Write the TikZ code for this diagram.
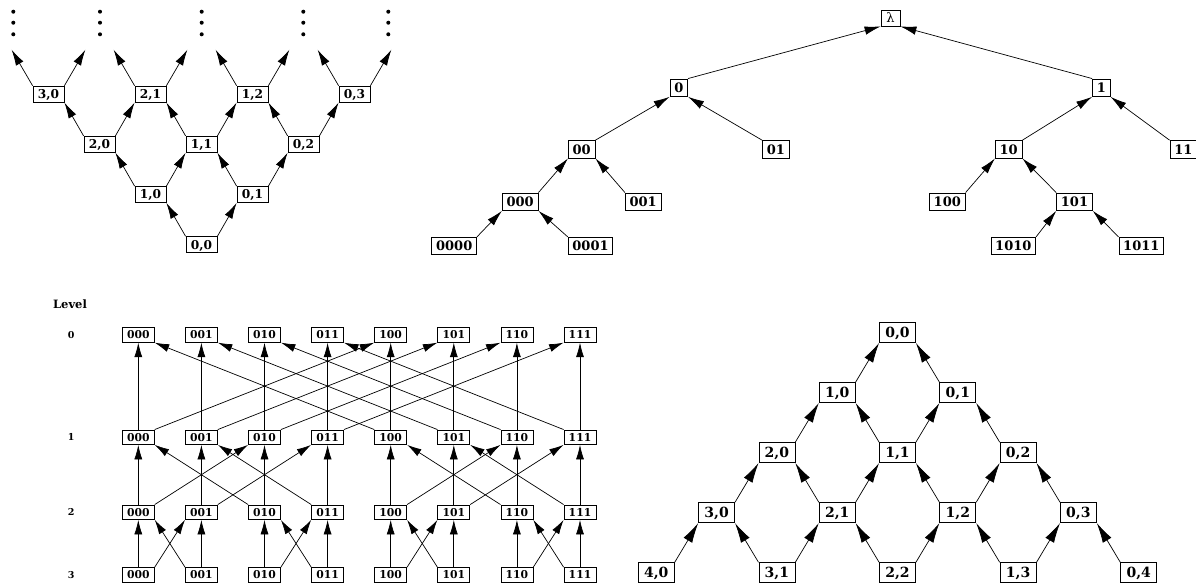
\documentclass[tikz,border=0pt]{standalone}
\usepackage{fontspec}
\newfontfamily\nodefont{DejaVu Serif}
\usetikzlibrary{arrows.meta}
\begin{document}
\begin{tikzpicture}[x=1pt,y=-1pt,
  bx/.style={draw, line width=0.8pt, inner sep=0pt, text depth=0pt},
  tlbox/.style={bx, font=\nodefont\fontsize{12.2}{14}\bfseries\selectfont, text height=8.9pt, minimum width=31pt, minimum height=16pt},
  brbox/.style={bx, font=\nodefont\fontsize{14}{16}\bfseries\selectfont, text height=10.2pt, minimum width=36pt, minimum height=20pt},
  bfbox/.style={bx, font=\nodefont\fontsize{10.8}{12}\bfseries\selectfont, text height=7.9pt, minimum width=32pt, minimum height=14.5pt},
  trbox/.style={bx, font=\nodefont\fontsize{13}{15}\bfseries\selectfont, text height=9.5pt, inner xsep=4.3pt, minimum height=17.5pt},
  lvl/.style={font=\nodefont\fontsize{9.5}{11}\bfseries\selectfont},
  arr/.style={-{Latex[length=16pt,width=8.5pt]}, line width=0.7pt},
  bfarr/.style={-{Latex[length=14.5pt,width=8pt]}, line width=0.7pt},
  bigarr/.style={-{Latex[length=20pt,width=10pt]}, line width=0.7pt},
  dotmark/.style={fill=black, radius=2pt}
]
\useasboundingbox (0,0) rectangle (1196,584);

% ---------------- top-left lattice ----------------
\foreach \s in {0,...,3}{
  \foreach \i in {0,...,\s}{
    \pgfmathtruncatemacro\j{\s-\i}
    \node[tlbox] (a-\i-\j) at ({201.5+(\j-\i)*51},{244.7-\s*50.2}) {\i,\j};
  }
}
\foreach \s in {0,...,2}{
  \foreach \i in {0,...,\s}{
    \pgfmathtruncatemacro\j{\s-\i}
    \pgfmathtruncatemacro\ii{\i+1}
    \pgfmathtruncatemacro\jj{\j+1}
    \draw[arr] (a-\i-\j.north west) -- (a-\ii-\j.south east);
    \draw[arr] (a-\i-\j.north east) -- (a-\i-\jj.south west);
  }
}
\foreach \i in {0,...,3}{
  \pgfmathtruncatemacro\j{3-\i}
  \coordinate (fl-\i) at ([shift={(-21,-36)}]a-\i-\j.north west);
  \coordinate (fr-\i) at ([shift={(21,-36)}]a-\i-\j.north east);
  \draw[arr] (a-\i-\j.north west) -- (fl-\i);
  \draw[arr] (a-\i-\j.north east) -- (fr-\i);
}
\foreach \x in {13.3,100,201.7,303.3,388.3}{
  \foreach \y in {11.7,22.7,34.3}{
    \fill[dotmark] (\x,\y) circle;
  }
}

% ---------------- top-right tree ----------------
\node[trbox, font=\nodefont\fontsize{13}{15}\selectfont, minimum height=16pt, minimum width=19pt] (t-l) at (890.5,18) {λ};
\node[trbox] (t-0) at (678.8,87.7) {0};
\node[trbox] (t-1) at (1101.3,87.7) {1};
\node[trbox] (t-00) at (581.7,149.3) {00};
\node[trbox] (t-01) at (775.8,149.3) {01};
\node[trbox] (t-10) at (1008.7,149.3) {10};
\node[trbox] (t-11) at (1183.3,149.3) {11};
\node[trbox] (t-000) at (520.2,201.7) {000};
\node[trbox] (t-001) at (643.2,201.7) {001};
\node[trbox] (t-100) at (947.3,201.7) {100};
\node[trbox] (t-101) at (1074.5,201.7) {101};
\node[trbox] (t-0000) at (454.2,246) {0000};
\node[trbox] (t-0001) at (590.5,246) {0001};
\node[trbox] (t-1010) at (1013.3,246) {1010};
\node[trbox] (t-1011) at (1141.3,246) {1011};
\draw[arr] (t-0.north east) -- (t-l.south west);
\draw[arr] (t-1.north west) -- (t-l.south east);
\draw[arr] (t-00.north east) -- (t-0.south west);
\draw[arr] (t-01.north west) -- (t-0.south east);
\draw[arr] (t-10.north east) -- (t-1.south west);
\draw[arr] (t-11.north west) -- (t-1.south east);
\draw[arr] (t-000.north east) -- (t-00.south west);
\draw[arr] (t-001.north west) -- (t-00.south east);
\draw[arr] (t-100.north east) -- (t-10.south west);
\draw[arr] (t-101.north west) -- (t-10.south east);
\draw[arr] (t-0000.north east) -- (t-000.south west);
\draw[arr] (t-0001.north west) -- (t-000.south east);
\draw[arr] (t-1010.north east) -- (t-101.south west);
\draw[arr] (t-1011.north west) -- (t-101.south east);

% ---------------- bottom-left butterfly ----------------
\node[font=\nodefont\fontsize{11.5}{13}\bfseries\selectfont] (lvl-h) at (70,304) {Level};
\foreach \L/\yy in {0/335,1/437.2,2/512.2,3/574.8}{
  \node[lvl] (lvl-\L) at (71.2,\yy) {\L};
  \foreach \k/\lab in {0/000,1/001,2/010,3/011,4/100,5/101,6/110,7/111}{
    \node[bfbox] (B\L-\k) at ({138.3+\k*63.1},\yy) {\lab};
  }
}
\foreach \lo/\hi/\m in {3/2/1,2/1/2,1/0/4}{
  \foreach \k in {0,...,7}{
    \draw[bfarr] (B\lo-\k.north) -- (B\hi-\k.south);
    \pgfmathtruncatemacro\bit{mod(floor(\k/\m),2)}
    \ifnum\bit=0
      \pgfmathtruncatemacro\p{\k+\m}
      \draw[bfarr] (B\lo-\k.north east) -- (B\hi-\p.south west);
    \else
      \pgfmathtruncatemacro\p{\k-\m}
      \draw[bfarr] (B\lo-\k.north west) -- (B\hi-\p.south east);
    \fi
  }
}

% ---------------- bottom-right lattice ----------------
\foreach \s in {0,...,4}{
  \foreach \i in {0,...,\s}{
    \pgfmathtruncatemacro\j{\s-\i}
    \node[brbox] (b-\i-\j) at ({897.5+(\j-\i)*60.3},{332.5+\s*60.05}) {\i,\j};
  }
}
\foreach \s in {1,...,4}{
  \foreach \i in {0,...,\s}{
    \pgfmathtruncatemacro\j{\s-\i}
    \ifnum\i>0
      \pgfmathtruncatemacro\ii{\i-1}
      \draw[bigarr] (b-\i-\j.north east) -- (b-\ii-\j.south west);
    \fi
    \ifnum\j>0
      \pgfmathtruncatemacro\jj{\j-1}
      \draw[bigarr] (b-\i-\j.north west) -- (b-\i-\jj.south east);
    \fi
  }
}
\end{tikzpicture}
\end{document}
